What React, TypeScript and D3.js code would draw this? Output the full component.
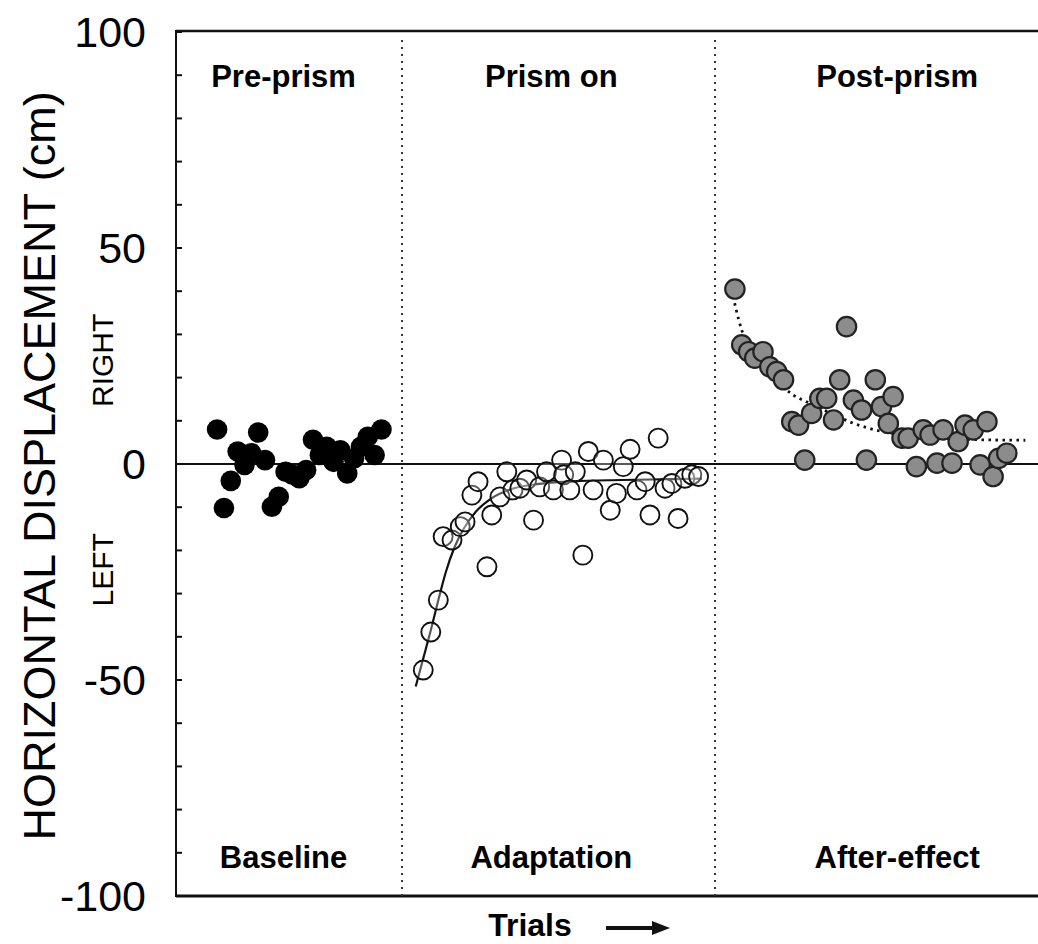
import React from 'react'
import { scaleLinear, line, curveMonotoneX, range } from 'd3'

// trial position and displacement (cm)
const baselineTrials = [6, 7, 8, 9, 10, 11, 12, 13, 14, 15, 16, 17, 18, 19, 20, 21, 22, 23, 24, 25, 26, 27, 28, 29, 30]
const baselineValues = [8, -10.2, -3.9, 2.9, -0.2, 2.5, 7.3, 0.9, -9.9, -7.6, -1.8, -2.5, -3.3, -1.4, 5.6, 2.1, 4, 0.5, 3.2, -2.2, 1.3, 4, 6.3, 2.1, 8]

const adaptTrials = [36.1, 37.2, 38.3, 39.0, 40.3, 41.5, 42.2, 43.2, 44.1, 45.4, 46.1, 47.3, 48.3, 49.2, 50.2, 51.2, 52.2, 53.1, 54.1, 55.1, 56.3, 56.6, 57.5, 58.3, 59.4, 60.2, 60.9, 62.4, 63.4, 64.3, 65.3, 66.3, 67.3, 68.5, 69.2, 70.4, 71.4, 72.4, 73.3, 74.3, 75.3, 76.3]
const adaptValues = [-47.7, -38.9, -31.5, -16.8, -17.6, -14.5, -13.4, -7.2, -4.1, -23.8, -11.8, -7.6, -1.8, -6, -5.6, -3.7, -13, -5.3, -1.8, -6, 0.9, -2.5, -6, -1.8, -21.1, 2.9, -6, 0.9, -10.7, -6.8, -0.6, 3.4, -6, -4.1, -11.8, 6, -5.6, -4.5, -12.6, -3.3, -2.5, -2.9]

const postTrials = [81.6, 82.6, 83.6, 84.5, 85.7, 86.7, 87.7, 88.7, 89.9, 90.9, 91.8, 92.8, 94.0, 95.0, 96.0, 96.9, 97.9, 98.9, 100.1, 100.8, 102.1, 103.0, 104.0, 104.7, 106.0, 106.9, 108.1, 109.1, 110.1, 111.1, 112.0, 113.3, 114.2, 115.2, 116.4, 117.4, 118.4, 119.3, 120.1, 121.3]
const postValues = [40.5, 27.6, 26, 24.5, 26, 22.5, 21.4, 19.5, 9.8, 9, 0.9, 11.7, 15.2, 15.2, 10.2, 19.5, 31.8, 14.8, 12.5, 0.9, 19.5, 13.3, 9.4, 15.6, 6, 6, -0.6, 7.9, 6.7, 0.2, 7.9, 0.2, 5.2, 9, 7.9, -0.2, 9.8, -2.9, 1.3, 2.5]

// fitted curves, traced
const adaptFitTrials = [35.0, 36.1, 37.2, 38.3, 39.4, 40.6, 42.0, 43.8, 46.0, 49.0, 53.0, 58.0, 65.0, 76.8]
const adaptFitValues = [-51.5, -45, -38.5, -31.5, -25, -19.5, -15, -11, -8, -5.8, -4.6, -4, -3.7, -3.4]
const postFitTrials = [80.9, 82.6, 84.5, 86.7, 90.1, 92.6, 95.5, 98.8, 102.3, 107.1, 113.0, 117.8, 124.0]
const postFitValues = [42, 31, 25.5, 21, 16, 14, 11.8, 9.5, 7.8, 6.5, 5.9, 5.6, 5.5]

const phaseBounds = [33, 78.7]
const phaseTop = ['Pre-prism', 'Prism on', 'Post-prism']
const phaseBottom = ['Baseline', 'Adaptation', 'After-effect']
const phaseCenters = [15.7, 54.8, 105.3]
const yTickLabels = [100, 50, 0, -50, -100]

const font = 'Liberation Sans, Arial, Helvetica, sans-serif'

const App = () => {
    const width = 1038
    const height = 944
    const left = 176
    const top = 32
    const bottom = 896

    const x = scaleLinear().domain([0, 126]).range([left, 1039])
    const y = scaleLinear().domain([-100, 100]).range([bottom, top])

    const fit = line<[number, number]>().x(d => x(d[0])).y(d => y(d[1])).curve(curveMonotoneX)
    const adaptFit = fit(adaptFitTrials.map((t, i) => [t, adaptFitValues[i]]))
    const postFit = fit(postFitTrials.map((t, i) => [t, postFitValues[i]]))

    const ticks = range(-100, 101, 10).map(v => (
        <line key={v} x1={left} x2={left + 6} y1={y(v)} y2={y(v)} stroke='#111' strokeWidth={2} />
    ))

    const tickLabels = yTickLabels.map(v => (
        <text key={v} x={146} y={y(v)} dy='0.36em' textAnchor='end' fontSize={43} fontFamily={font}>{v}</text>
    ))

    const baseline = baselineTrials.map((t, i) => (
        <circle key={i} cx={x(t)} cy={y(baselineValues[i])} r={10.3} fill='#000' />
    ))
    const adapt = adaptTrials.map((t, i) => (
        <circle key={i} cx={x(t)} cy={y(adaptValues[i])} r={9.5} fill='#fff' fillOpacity={0.3} stroke='#111' strokeWidth={1.9} />
    ))
    const post = postTrials.map((t, i) => (
        <circle key={i} cx={x(t)} cy={y(postValues[i])} r={9.7} fill='#8c8c8c' stroke='#222' strokeWidth={2.2} />
    ))

  return (
    <svg width={width} height={height} viewBox={`0 0 ${width} ${height}`}
        style={{ position: 'absolute', left: 0, top: 0, background: '#fff' }}>
        {/* frame */}
        <line x1={left} x2={width} y1={top - 1} y2={top - 1} stroke='#111' strokeWidth={2.5} />
        <line x1={left} x2={width} y1={bottom} y2={bottom} stroke='#111' strokeWidth={3} />
        <line x1={left} x2={left} y1={top - 2} y2={bottom + 1} stroke='#111' strokeWidth={2} />
        <line x1={left} x2={width} y1={y(0)} y2={y(0)} stroke='#111' strokeWidth={2} />
        {ticks}
        {tickLabels}
        {phaseBounds.map(b => (
            <line key={b} x1={x(b)} x2={x(b)} y1={top + 8} y2={bottom} stroke='#333' strokeWidth={2} strokeDasharray='2 5' />
        ))}
        {phaseTop.map((t, i) => (
            <text key={t} x={x(phaseCenters[i])} y={87} textAnchor='middle' fontSize={31} fontWeight='bold' fontFamily={font}>{t}</text>
        ))}
        {phaseBottom.map((t, i) => (
            <text key={t} x={x(phaseCenters[i])} y={868} textAnchor='middle' fontSize={31} fontWeight='bold' fontFamily={font}>{t}</text>
        ))}
        <path d={adaptFit || ''} fill='none' stroke='#111' strokeWidth={2.2} />
        <path d={postFit || ''} fill='none' stroke='#111' strokeWidth={2.8} strokeDasharray='2.5 4.5' />
        {baseline}
        {adapt}
        {post}
        {/* axis titles */}
        <text transform={`translate(55, ${y(0) + 2}) rotate(-90)`} textAnchor='middle' fontSize={45} fontFamily={font}>HORIZONTAL DISPLACEMENT (cm)</text>
        <text transform={`translate(113, ${y(24)}) rotate(-90)`} textAnchor='middle' fontSize={30} fontFamily={font}>RIGHT</text>
        <text transform={`translate(113, ${y(-24.5)}) rotate(-90)`} textAnchor='middle' fontSize={30} fontFamily={font}>LEFT</text>
        <text x={530} y={936} textAnchor='middle' fontSize={32} fontWeight='bold' fontFamily={font}>Trials</text>
        <line x1={606} x2={655} y1={928} y2={928} stroke='#111' strokeWidth={4} />
        <polygon points='652,921 670,928 652,935' fill='#111' />
    </svg>
  )
}

export default App
